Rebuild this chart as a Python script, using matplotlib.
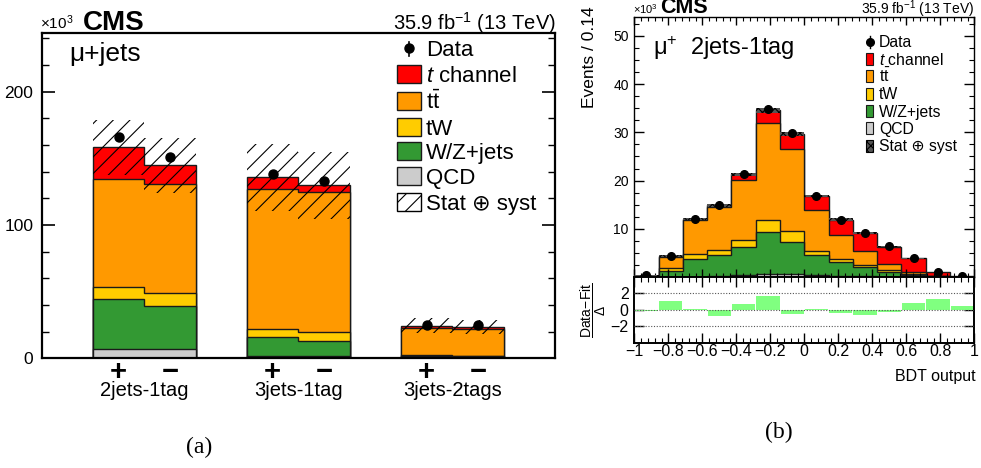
import numpy as np
import matplotlib
matplotlib.use('Agg')
import matplotlib.pyplot as plt
from matplotlib.patches import Rectangle
from matplotlib.lines import Line2D
from matplotlib.ticker import MultipleLocator, FixedLocator, FixedFormatter
from matplotlib.transforms import blended_transform_factory

plt.rcParams['font.family'] = ['Liberation Sans', 'DejaVu Sans']
plt.rcParams['mathtext.fontset'] = 'custom'
plt.rcParams['mathtext.rm'] = 'Liberation Sans'
plt.rcParams['mathtext.it'] = 'Liberation Sans:italic'
plt.rcParams['mathtext.bf'] = 'Liberation Sans:bold'
plt.rcParams['hatch.linewidth'] = 0.8

# ---------------- data: panel (a) ----------------
cat_labels = ['2jets-1tag', '3jets-1tag', '3jets-2tags']
charge_labels = ['+', '\u2212']
a_qcd = [6.7, 6.7, 1.7, 1.5, 0.5, 0.5]
a_wz = [37.8, 32.8, 14.0, 11.7, 1.0, 0.9]
a_tw = [9.2, 9.2, 6.5, 6.3, 0.7, 0.6]
a_tt = [80.8, 81.8, 104.8, 105.2, 20.3, 20.0]
a_tch = [23.7, 14.2, 8.7, 5.0, 2.0, 1.5]
a_data = [166.0, 151.2, 138.0, 132.7, 25.2, 24.7]
a_unc = [20.5, 20.7, 25.0, 25.0, 5.5, 5.0]

# ---------------- data: panel (b) ----------------
b_qcd = [0.0, 0.05, 0.1, 0.2, 0.4, 0.6, 0.6, 0.5, 0.3, 0.2, 0.1, 0.05, 0.02, 0.0]
b_wz = [0.1, 1.25, 3.55, 4.4, 5.9, 8.8, 6.7, 4.1, 2.9, 1.9, 1.0, 0.45, 0.13, 0.02]
b_tw = [0.05, 0.5, 1.05, 1.1, 1.35, 2.4, 2.2, 0.85, 0.45, 0.4, 0.35, 0.2, 0.05, 0.01]
b_tt = [0.1, 2.4, 7.1, 8.9, 12.55, 20.2, 17.1, 8.55, 5.05, 2.95, 1.25, 0.4, 0.1, 0.02]
b_tch = [0.05, 0.15, 0.2, 0.3, 1.1, 2.6, 3.1, 2.8, 3.2, 3.75, 3.6, 2.8, 0.7, 0.1]
b_data = [0.4, 4.4, 12.0, 15.0, 21.3, 34.8, 29.9, 16.9, 11.9, 9.2, 6.4, 3.9, 1.1, 0.25]
b_unc = [0.05, 0.15, 0.25, 0.3, 0.35, 0.5, 0.45, 0.3, 0.25, 0.2, 0.15, 0.1, 0.05, 0.02]
b_pull = [-0.2, 1.1, 0.12, -0.8, 0.75, 1.65, -0.45, 0.12, -0.33, -0.6, -0.25, 0.87, 1.37, 0.5]
b_xticks = [-1.0, -0.8, -0.6, -0.4, -0.2, 0.0, 0.2, 0.4, 0.6, 0.8, 1.0]
b_xticklabels = ['\u22121', '\u22120.8', '\u22120.6', '\u22120.4', '\u22120.2', '0',
                 '0.2', '0.4', '0.6', '0.8', '1']

legend_labels = ['Data', r'$t$ channel', r'$\mathrm{t}\bar{\mathrm{t}}$', 'tW',
                 'W/Z+jets', 'QCD', 'Stat \u2295 syst']

C_TCH, C_TT, C_TW, C_WZ, C_QCD = '#ff0000', '#ff9900', '#ffcc00', '#339933', '#cccccc'
colors = [C_QCD, C_WZ, C_TW, C_TT, C_TCH]
EDGE = '#1a1a1a'

W, H = 981, 468
fig = plt.figure(figsize=(W / 100, H / 100), dpi=100)


def fx(x):
    return x / W


def fy(y):
    return 1 - y / H


def rect(x0, y0, x1, y1):
    return [fx(x0), fy(y1), (x1 - x0) / W, (y1 - y0) / H]


def add_box(x0, y0, x1, y1, **kw):
    fig.add_artist(Rectangle((fx(x0), fy(y1)), (x1 - x0) / W, (y1 - y0) / H,
                             transform=fig.transFigure, **kw))


# ================= panel (a) =================
axA = fig.add_axes(rect(41.7, 33, 555, 358.3))
axA.set_xlim(0, 10)
axA.set_ylim(0, 244)
cumA = np.cumsum(np.array([a_qcd, a_wz, a_tw, a_tt, a_tch]), axis=0)
centersA = []
for g in range(3):
    start = 1 + 3 * g
    edges = [start, start + 1, start + 2]
    sl = slice(2 * g, 2 * g + 2)
    for k in range(4, -1, -1):
        axA.stairs(cumA[k, sl], edges, baseline=0, fill=True,
                   facecolor=colors[k], edgecolor=EDGE, linewidth=1.0)
    centersA += [start + 0.5, start + 1.5]
centersA = np.array(centersA)
totA = cumA[-1]
axA.bar(centersA, 2 * np.array(a_unc), bottom=totA - np.array(a_unc), width=1.0,
        facecolor='none', edgecolor='black', hatch='//', linewidth=0, zorder=3)
axA.plot(centersA, a_data, 'o', color='black', ms=6.5, zorder=4)

axA.yaxis.set_major_locator(FixedLocator([0, 100, 200]))
axA.yaxis.set_minor_locator(MultipleLocator(20))
axA.set_xticks([])
axA.tick_params(axis='y', which='both', direction='in', left=True, right=True,
                labelsize=12.5, pad=6)
axA.tick_params(axis='y', which='major', length=9.5, width=1.2)
axA.tick_params(axis='y', which='minor', length=5, width=1.0)
for s in axA.spines.values():
    s.set_linewidth(1.6)

transA = blended_transform_factory(axA.transData, fig.transFigure)
for g in range(3):
    start = 1 + 3 * g
    axA.text(start + 0.5, fy(379.5), charge_labels[0], transform=transA, ha='center',
             va='baseline', fontsize=21, fontweight='bold')
    axA.text(start + 1.5, fy(379.5), charge_labels[1], transform=transA, ha='center',
             va='baseline', fontsize=21, fontweight='bold')
    axA.text(start + 1.0, fy(395.5), cat_labels[g], transform=transA, ha='center',
             va='baseline', fontsize=14.5)

fig.text(fx(40), fy(29), '\u00d710$^{3}$', fontsize=11, va='baseline')
fig.text(fx(83), fy(29.5), 'CMS', fontsize=20, fontweight='bold', va='baseline')
fig.text(fx(556), fy(29.5), '35.9 fb$^{-1}$ (13 TeV)', fontsize=14.5, ha='right', va='baseline')
fig.text(fx(69), fy(61), '\u03bc+jets', fontsize=19, va='baseline')

# legend (a)
legA_y = [48.3, 74.3, 101, 126.7, 150.7, 175.7, 202.3]
fig.add_artist(Line2D([fx(409), fx(409)], [fy(41.5), fy(56)], color='black', lw=1.2,
                      transform=fig.transFigure))
fig.add_artist(Line2D([fx(409)], [fy(legA_y[0])], marker='o', color='black', ms=6.5,
                      transform=fig.transFigure))
for i, c in enumerate([C_TCH, C_TT, C_TW, C_WZ, C_QCD]):
    y = legA_y[i + 1]
    add_box(397, y - 9, 421, y + 9, facecolor=c, edgecolor=EDGE, linewidth=1.0)
add_box(397, legA_y[6] - 9, 421, legA_y[6] + 9, facecolor='white', edgecolor='black',
        hatch='//', linewidth=1.0)
for i, lab in enumerate(legend_labels):
    fig.text(fx(426), fy(legA_y[i] + 8), lab, fontsize=16, va='baseline')

fig.text(fx(199), fy(447), '(a)', family='Liberation Serif', fontsize=17,
         ha='center', va='center')

# ================= panel (b) =================
axB = fig.add_axes(rect(634.3, 16.7, 974.3, 277))
axR = fig.add_axes(rect(634.3, 277, 974.3, 342.7))
edgesB = np.linspace(-1, 1, 15)
centersB = 0.5 * (edgesB[1:] + edgesB[:-1])
bw = edgesB[1] - edgesB[0]
cumB = np.cumsum(np.array([b_qcd, b_wz, b_tw, b_tt, b_tch]), axis=0)
for k in range(4, -1, -1):
    axB.stairs(cumB[k], edgesB, baseline=0, fill=True, facecolor=colors[k],
               edgecolor=EDGE, linewidth=1.0)
totB = cumB[-1]
axB.bar(centersB, 2 * np.array(b_unc), bottom=totB - np.array(b_unc), width=bw,
        facecolor='#555555', edgecolor='black', hatch='xxxx', linewidth=0, zorder=3)
axB.plot(centersB, b_data, 'o', color='black', ms=5.5, zorder=4)
axB.set_xlim(-1, 1)
axB.set_ylim(0, 54)
axB.xaxis.set_major_locator(FixedLocator(b_xticks))
axB.xaxis.set_minor_locator(MultipleLocator(0.04))
axB.yaxis.set_major_locator(FixedLocator([0, 10, 20, 30, 40, 50]))
axB.yaxis.set_major_formatter(FixedFormatter(['', '10', '20', '30', '40', '50']))
axB.yaxis.set_minor_locator(MultipleLocator(2.5))
axB.tick_params(which='both', direction='in', top=True, right=True, labelbottom=False,
                labelsize=10, pad=4)
axB.tick_params(axis='y', which='major', length=7.5, width=1.0)
axB.tick_params(axis='y', which='minor', length=3.6, width=0.8)
axB.tick_params(axis='x', which='major', length=5.5, width=1.0)
axB.tick_params(axis='x', which='minor', length=2.8, width=0.8)
for s in axB.spines.values():
    s.set_linewidth(1.0)

# ratio pad
for v in (-2, 0, 2):
    axR.axhline(v, color='#555555', linestyle=(0, (1, 1.5)), linewidth=0.8, zorder=3)
axR.bar(centersB, b_pull, width=bw * 0.96, color='#80ff80', linewidth=0, zorder=2)
axR.set_xlim(-1, 1)
axR.set_ylim(-4, 4)
axR.xaxis.set_major_locator(FixedLocator(b_xticks))
axR.xaxis.set_major_formatter(FixedFormatter(b_xticklabels))
axR.xaxis.set_minor_locator(MultipleLocator(0.04))
axR.yaxis.set_major_locator(FixedLocator([-2, 0, 2]))
axR.yaxis.set_major_formatter(FixedFormatter(['\u22122', '0', '2']))
axR.tick_params(which='both', direction='in', top=True, right=True, labelsize=11.5)
axR.tick_params(axis='x', which='major', length=7, width=1.0, pad=1)
axR.tick_params(axis='x', which='minor', length=3.5, width=0.8)
axR.tick_params(axis='y', which='major', length=7, width=1.0, pad=4)
for s in axR.spines.values():
    s.set_linewidth(1.4)

fig.text(fx(974.3), fy(13.5), '35.9 fb$^{-1}$ (13 TeV)', fontsize=10, ha='right', va='baseline')
fig.text(fx(660), fy(13), 'CMS', fontsize=15.5, fontweight='bold', va='baseline')
fig.text(fx(633), fy(13.5), '\u00d710$^{3}$', fontsize=8, va='baseline')
fig.text(fx(653), fy(55), '\u03bc$^{+}$  2jets-1tag', fontsize=17, va='baseline')
fig.text(fx(590), fy(57), 'Events / 0.14', rotation=90, ha='center', va='center', fontsize=12.5)
fig.text(fx(593), fy(310), r'$\dfrac{\mathrm{Data\!-\!Fit}}{\Delta}$', rotation=90,
         ha='center', va='center', fontsize=10)
fig.text(fx(976), fy(381.5), 'BDT output', ha='right', va='baseline', fontsize=11.5)

# legend (b)
legB_y = [41.7, 59, 76.3, 93.6, 110.9, 128.2, 145.5]
fig.add_artist(Line2D([fx(869.5), fx(869.5)], [fy(36), fy(47.5)], color='black', lw=1.0,
                      transform=fig.transFigure))
fig.add_artist(Line2D([fx(869.5)], [fy(legB_y[0])], marker='o', color='black', ms=5.5,
                      transform=fig.transFigure))
for i, c in enumerate([C_TCH, C_TT, C_TW, C_WZ, C_QCD]):
    y = legB_y[i + 1]
    add_box(865.7, y - 6, 873, y + 6, facecolor=c, edgecolor=EDGE, linewidth=0.8)
add_box(865.7, legB_y[6] - 6, 873, legB_y[6] + 6, facecolor='#555555', edgecolor='black',
        hatch='xxxx', linewidth=0.8)
for i, lab in enumerate(legend_labels):
    fig.text(fx(879), fy(legB_y[i] + 5.6), lab, fontsize=11.3, va='baseline')

fig.text(fx(779), fy(432), '(b)', family='Liberation Serif', fontsize=17,
         ha='center', va='center')

fig.savefig('out.png', dpi=100)
